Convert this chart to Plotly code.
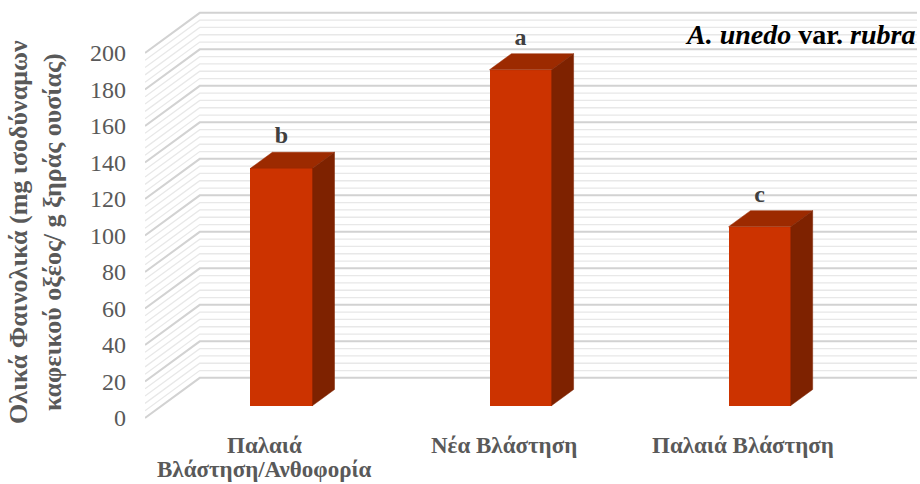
import plotly.graph_objects as go

# --- data ---
categories = ["Παλαιά<br>Βλάστηση/Ανθοφορία", "Νέα Βλάστηση", "Παλαιά Βλάστηση"]
values = [130, 184, 98]
letters = ["b", "a", "c"]
y_ticks = [0, 20, 40, 60, 80, 100, 120, 140, 160, 180, 200]

# --- oblique 3-D geometry (data units) ---
DX = 0.229          # depth shift along x (category units)
DY = 22.0           # depth shift along y (value units)
T_FRONT = 0.31      # bar front face depth fraction
T_BACK = 0.71       # bar back face depth fraction
BAR_W = 0.26        # bar width (category units)
Y_MAX = 200
MINOR = 4

FRONT = "#cc3300"
TOP = "#9c2a00"
SIDE = "#7e2200"
MAJOR_GRID = "#d2d2d2"
MINOR_GRID = "#e8e8e8"
SERIF = "Times New Roman, Liberation Serif, serif"

# plot-area placement in pixels
M_L, M_R, M_T, M_B = 145, 3, 8, 62
W, H = 920, 484
PLOT_H = H - M_T - M_B

fig = go.Figure()

x_left = -0.5
x_right = len(categories) - 0.5

# back wall and side wall gridlines (drawn beneath the bars)
shapes = []
for v in range(0, Y_MAX + 1, MINOR):
    major = v % 20 == 0
    col = MAJOR_GRID if major else MINOR_GRID
    w = 2 if major else 1.3
    path = (f"M {x_left},{v} L {x_left + DX},{v + DY} "
            f"L {x_right + DX},{v + DY}")
    shapes.append(dict(type="path", xref="x", yref="y", path=path,
                       line=dict(color=col, width=w), layer="below"))

# bars: front face through go.Bar, top and side faces as filled polygons
xs = list(range(len(categories)))
fx = [i + T_FRONT * DX for i in xs]
fb = T_FRONT * DY
fig.add_trace(go.Bar(
    x=fx, y=values, base=fb, width=BAR_W,
    marker=dict(color=FRONT, line=dict(width=0)),
    showlegend=False, hoverinfo="skip"))

d = T_BACK - T_FRONT
for i, v in zip(xs, values):
    x0 = i + T_FRONT * DX - BAR_W / 2
    x1 = x0 + BAR_W
    y0 = fb
    y1 = fb + v
    ddx = d * DX
    ddy = d * DY
    # top face
    fig.add_trace(go.Scatter(
        x=[x0, x1, x1 + ddx, x0 + ddx, x0],
        y=[y1, y1, y1 + ddy, y1 + ddy, y1],
        fill="toself", fillcolor=TOP, mode="lines",
        line=dict(color=TOP, width=0.5),
        hoverinfo="skip", showlegend=False))
    # side face
    fig.add_trace(go.Scatter(
        x=[x1, x1 + ddx, x1 + ddx, x1, x1],
        y=[y0, y0 + ddy, y1 + ddy, y1, y0],
        fill="toself", fillcolor=SIDE, mode="lines",
        line=dict(color=SIDE, width=0.5),
        hoverinfo="skip", showlegend=False))

# significance letters above bars
fig.add_trace(go.Scatter(
    x=fx, y=[v + fb + 17 for v in values], text=letters,
    mode="text",
    textfont=dict(family=SERIF, size=24, color="#404040", weight="bold"),
    hoverinfo="skip", showlegend=False))

# category labels under the front plane, one annotation per text line
# (tight line spacing)
annotations = []
LINE_Y0 = 445
LINE_STEP = 24
for i, cat in enumerate(categories):
    for j, line in enumerate(cat.split("<br>")):
        py = LINE_Y0 + j * LINE_STEP
        annotations.append(dict(
            text=line, xref="x", yref="paper",
            x=i, y=(H - M_B - py) / PLOT_H,
            xanchor="center", yanchor="middle", showarrow=False,
            font=dict(family=SERIF, size=23, color="#595959", weight="bold"),
        ))

annotations += [
    dict(
        text="Ολικά Φαινολικά (mg ισοδύναμων<br>καφεικού οξέος/ g ξηράς ουσίας)",
        xref="paper", yref="paper",
        x=(36 - M_L) / (W - M_L - M_R), y=(H - M_B - 232) / PLOT_H,
        textangle=-90, showarrow=False,
        font=dict(family=SERIF, size=26, color="#595959", weight="bold"),
        xanchor="center", yanchor="middle",
    ),
    dict(
        text="<i>A. unedo</i> var. <i>rubra</i>",
        xref="paper", yref="paper",
        x=1.0, y=(H - M_B - 35) / PLOT_H,
        showarrow=False, xanchor="right", yanchor="middle",
        font=dict(family=SERIF, size=28, color="black", weight="bold"),
    ),
]

fig.update_layout(
    width=W, height=H,
    margin=dict(l=M_L, r=M_R, t=M_T, b=M_B),
    paper_bgcolor="white", plot_bgcolor="white",
    font=dict(family=SERIF, color="#595959"),
    bargap=0,
    shapes=shapes,
    xaxis=dict(
        range=[x_left, x_right + DX],
        showticklabels=False,
        showgrid=False, zeroline=False, showline=False, ticks="",
        automargin=False,
    ),
    yaxis=dict(
        range=[-2.19, 224.66],
        tickvals=y_ticks,
        showgrid=False, zeroline=False, showline=False, ticks="",
        tickfont=dict(family=SERIF, size=24, color="#595959"),
        ticklabelstandoff=18, automargin=False,
    ),
    annotations=annotations,
)

fig.write_html("out.html")
